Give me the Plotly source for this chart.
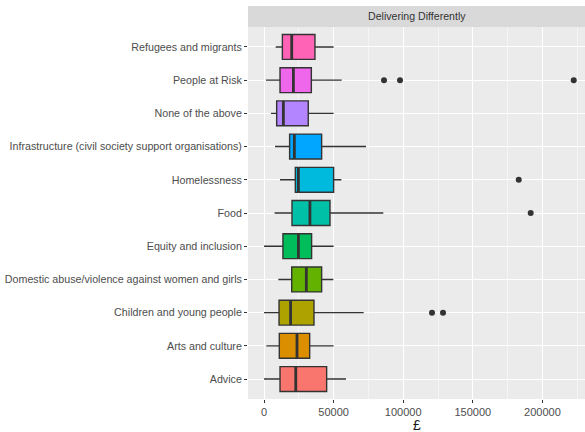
import plotly.graph_objects as go

categories = ["Advice", "Arts and culture", "Children and young people",
              "Domestic abuse/violence against women and girls", "Equity and inclusion",
              "Food", "Homelessness", "Infrastructure (civil society support organisations)",
              "None of the above", "People at Risk", "Refugees and migrants"]
lower = [0, 1700, 0, 10300, 0, 7600, 11500, 7900, 5000, 1400, 8400]
q1 = [11500, 11000, 10800, 19900, 13600, 20100, 22500, 18400, 9100, 11500, 13200]
median = [22800, 23700, 19100, 30400, 24700, 33000, 24700, 21800, 13900, 21100, 19900]
q3 = [45000, 32800, 35900, 41400, 34200, 47400, 50000, 41400, 31800, 34000, 36600]
upper = [58900, 50000, 71600, 49800, 50000, 85700, 55600, 73300, 50000, 55800, 50000]
outlier_cat = ["Children and young people", "Children and young people", "Food",
               "Homelessness", "People at Risk", "People at Risk", "People at Risk"]
outlier_val = [120700, 128600, 191600, 183000, 86200, 97700, 222500]
colors = ["#F8766D", "#DB8E00", "#AEA200", "#64B200", "#00BD5C", "#00C1A7",
          "#00BADE", "#00A6FF", "#B385FF", "#EF67EB", "#FF63B6"]
x_ticks = [0, 50000, 100000, 150000, 200000]
panel_title = "Delivering Differently"
x_title = "£"

fig = go.Figure()
for i, c in enumerate(categories):
    fig.add_trace(go.Box(
        y=[c], q1=[q1[i]], median=[median[i]], q3=[q3[i]],
        lowerfence=[lower[i]], upperfence=[upper[i]],
        orientation="h", width=0.75, whiskerwidth=0,
        fillcolor=colors[i], line=dict(color="#333333", width=1.4),
        boxpoints=False, showlegend=False, hoverinfo="skip"))

# thicker median lines (ggplot fatten)
cat_idx = {c: i for i, c in enumerate(categories)}
for i, c in enumerate(categories):
    fig.add_trace(go.Scatter(
        x=[median[i], median[i]], y=[i - 0.375, i + 0.375],
        mode="lines", line=dict(color="#333333", width=2.8),
        showlegend=False, hoverinfo="skip", yaxis="y2"))

fig.add_trace(go.Scatter(
    x=outlier_val, y=[cat_idx[c] for c in outlier_cat], mode="markers",
    marker=dict(color="#333333", size=6), showlegend=False, yaxis="y2",
    cliponaxis=False))

grid_minor = [-25000 + 50000 * k for k in range(6)]
font = "Liberation Sans, Arial, sans-serif"
fig.update_layout(
    width=585, height=432,
    margin=dict(l=248, r=0, t=27, b=33, autoexpand=False),
    paper_bgcolor="white", plot_bgcolor="#EBEBEB",
    font=dict(family=font, color="#4D4D4D", size=10.7),
    xaxis=dict(range=[-11500, 230600], tickvals=x_ticks, ticktext=[str(v) for v in x_ticks],
               showgrid=True, gridcolor="white", gridwidth=1.2, zeroline=False,
               ticks="outside", ticklen=3, tickcolor="#333333", tickwidth=1,
               minor=dict(tickvals=grid_minor, showgrid=True, gridcolor="#F5F5F5", gridwidth=0.6, ticks=""),
               tickfont=dict(size=11, color="#4D4D4D"), automargin=False,
               showline=False),
    yaxis=dict(type="category", categoryorder="array", categoryarray=categories,
               range=[-0.6, 10.6], showgrid=True, gridcolor="white", gridwidth=1.2,
               ticks="outside", ticklen=3, tickcolor="#333333", tickwidth=1,
               tickfont=dict(size=10.7, color="#4D4D4D"), zeroline=False, showline=False,
               automargin=False),
    yaxis2=dict(overlaying="y", range=[-0.6, 10.6], visible=False),
    shapes=[dict(type="rect", xref="paper", yref="paper", x0=0, x1=1, y0=1, y1=1 + 21 / 372,
                 fillcolor="#D9D9D9", line=dict(width=0), layer="below")],
    annotations=[dict(text=panel_title, xref="paper", yref="paper", x=0.5, y=1 + 10.5 / 372,
                      showarrow=False, font=dict(size=10.6, color="#333333"),
                      xanchor="center", yanchor="middle"),
                 dict(text=x_title, xref="paper", yref="paper", x=0.5, y=-26 / 372,
                      showarrow=False, font=dict(size=14, color="#1A1A1A"),
                      xanchor="center", yanchor="middle")],
)
fig.write_html("out.html", config={"displayModeBar": False},
               post_script="document.body.style.margin='0';document.body.style.overflow='hidden';")
